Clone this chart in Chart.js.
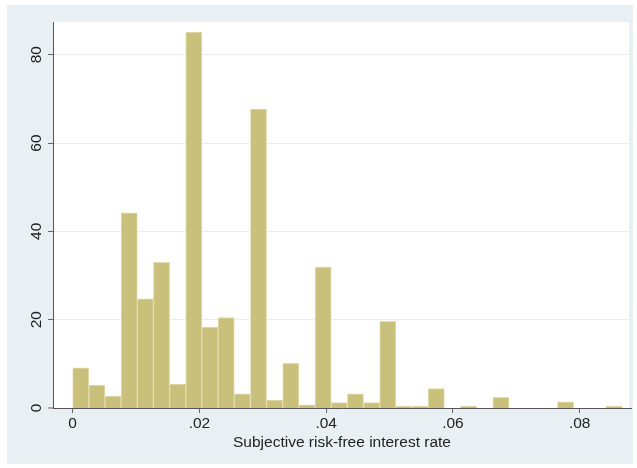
<!DOCTYPE html>
<html>
<head>
<meta charset="utf-8">
<script src="https://cdn.jsdelivr.net/npm/chart.js@4"></script>
<style>
  html, body { margin: 0; padding: 0; background: #fff; }
  canvas { display: block; }
</style>
</head>
<body>
<canvas id="histChart" width="637" height="468"></canvas>
<script>
// histogram bins: 34 bins of equal width starting at 0
const binWidth = 0.00255;
const binCount = 34;
// density per bin
const density = [
  9.1, 5.2, 2.7, 44.2, 24.7, 33.0, 5.4, 85.1, 18.3, 20.5,
  3.2, 67.7, 1.8, 10.1, 0.7, 31.9, 1.2, 3.2, 1.2, 19.6,
  0.4, 0.4, 4.4, 0, 0.4, 0, 2.4, 0, 0, 0,
  1.4, 0, 0, 0.45
];
const xTicks = [0, 0.02, 0.04, 0.06, 0.08];
const yTicks = [0, 20, 40, 60, 80];
const xTitle = 'Subjective risk-free interest rate';

const binCenters = [];
for (let i = 0; i < binCount; i++) {
  binCenters.push(i * binWidth + binWidth / 2);
}

const fontFamily = '"Liberation Sans", Arial, Helvetica, sans-serif';

// Stata-like backgrounds: bluish graph region, white plot region
const backgroundPlugin = {
  id: 'backgrounds',
  beforeDraw(chart) {
    const ctx = chart.ctx;
    const area = chart.chartArea;
    ctx.save();
    ctx.fillStyle = '#ffffff';
    ctx.fillRect(0, 0, chart.width, chart.height);
    ctx.fillStyle = '#e8f0f3';
    ctx.fillRect(7, 5, 626, 459);
    ctx.fillStyle = '#ffffff';
    ctx.fillRect(area.left, area.top, area.right - area.left - 2, area.bottom - area.top);
    ctx.restore();
  }
};

const ctx = document.getElementById('histChart').getContext('2d');

new Chart(ctx, {
  type: 'bar',
  data: {
    datasets: [{
      data: binCenters.map((x, i) => ({ x: x, y: density[i] })),
      backgroundColor: '#c9c07b',
      borderColor: '#e2ddb0',
      borderWidth: 1,
      barPercentage: 1,
      categoryPercentage: 1
    }]
  },
  options: {
    responsive: false,
    animation: false,
    devicePixelRatio: 1,
    layout: {
      padding: { top: 22, right: 6, left: 0, bottom: 13 }
    },
    plugins: {
      legend: { display: false },
      tooltip: { enabled: false }
    },
    scales: {
      x: {
        type: 'linear',
        min: -0.0031,
        max: 0.0881,
        offset: false,
        afterBuildTicks: scale => {
          scale.ticks = xTicks.map(v => ({ value: v }));
        },
        afterFit: scale => {
          scale.height = 47;
        },
        grid: {
          offset: false,
          drawOnChartArea: false,
          drawTicks: true,
          tickLength: 5,
          tickColor: '#666'
        },
        border: { color: '#555', width: 1 },
        ticks: {
          color: '#222',
          padding: 1,
          maxRotation: 0,
          font: { family: fontFamily, size: 15.5 },
          callback: v => v === 0 ? '0' : String(v).replace(/^0/, '')
        },
        title: {
          display: true,
          text: xTitle,
          color: '#222',
          padding: { top: 2, bottom: 3 },
          font: { family: fontFamily, size: 15.5 }
        }
      },
      y: {
        min: 0,
        max: 87.4,
        afterBuildTicks: scale => {
          scale.ticks = yTicks.map(v => ({ value: v }));
        },
        afterFit: scale => {
          scale.width = 53;
        },
        grid: {
          color: '#e6eef1',
          lineWidth: c => (c.tick && c.tick.value === 0) ? 0 : 1,
          tickLength: 5,
          tickColor: '#666',
          tickWidth: 1
        },
        border: { color: '#555', width: 1 },
        ticks: {
          color: '#222',
          padding: 3,
          minRotation: 90,
          maxRotation: 90,
          crossAlign: 'center',
          font: { family: fontFamily, size: 15.5 }
        }
      }
    }
  },
  plugins: [backgroundPlugin]
});
</script>
</body>
</html>
